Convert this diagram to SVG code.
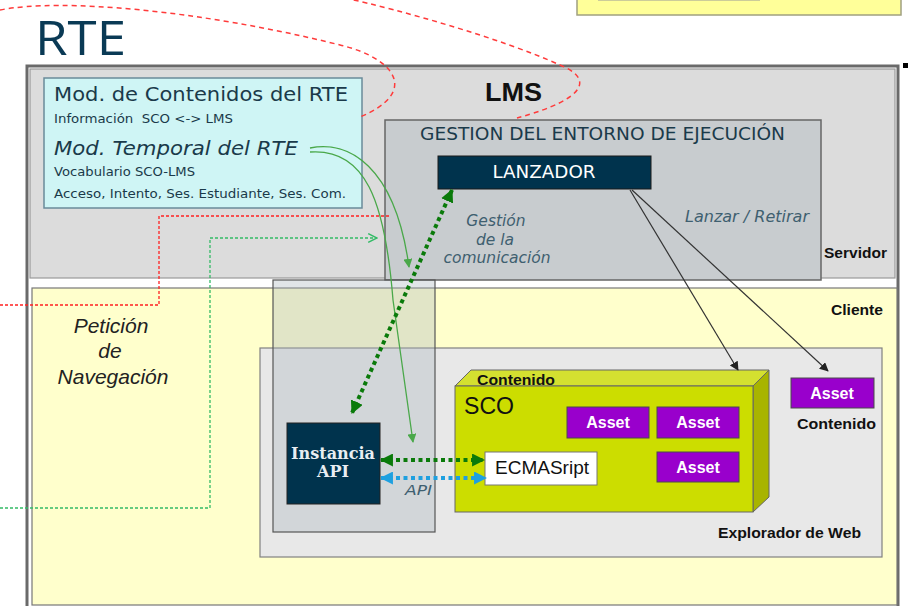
<svg xmlns="http://www.w3.org/2000/svg" width="908" height="606" viewBox="0 0 908 606">
<style>
.sans{font-family:"DejaVu Sans","Liberation Sans",sans-serif}
.ar{font-family:"Liberation Sans",Arial,sans-serif}
.arb{font-family:"Liberation Sans",Arial,sans-serif;font-weight:bold}
.mod{fill:#1a3a4a}
.it{font-style:italic}
.asset rect{fill:#9900cc;stroke:#4a4a4a;stroke-width:1}
.asset text{font-family:"Liberation Sans",Arial,sans-serif;font-weight:bold;font-size:16px;fill:#fff;text-anchor:middle}
.lbl{fill:#3f5f70}
</style>
<defs>
<marker id="ag" viewBox="0 0 12 12" markerWidth="13" markerHeight="13" refX="11" refY="6" orient="auto-start-reverse" markerUnits="userSpaceOnUse"><path d="M0,0 L12,6 L0,12 z" fill="#0a7a0a"/></marker>
<marker id="ab" viewBox="0 0 12 12" markerWidth="13" markerHeight="13" refX="11" refY="6" orient="auto-start-reverse" markerUnits="userSpaceOnUse"><path d="M0,0 L12,6 L0,12 z" fill="#1ea0e0"/></marker>
<marker id="alg" viewBox="0 0 10 10" markerWidth="9" markerHeight="9" refX="9" refY="5" orient="auto" markerUnits="userSpaceOnUse"><path d="M0,0 L10,5 L0,10 z" fill="#4aa84a"/></marker>
<marker id="aopen" viewBox="0 0 10 10" markerWidth="11" markerHeight="11" refX="9" refY="5" orient="auto" markerUnits="userSpaceOnUse"><path d="M1,1 L9,5 L1,9" fill="none" stroke="#33bb66" stroke-width="1.3"/></marker>
<marker id="ak" viewBox="0 0 10 10" markerWidth="9" markerHeight="9" refX="9" refY="5" orient="auto" markerUnits="userSpaceOnUse"><path d="M0,0 L10,5 L0,10 z" fill="#222"/></marker>
</defs>
<rect width="908" height="606" fill="#fff"/>

<g id="topbox">
<rect x="577" y="-4" width="324" height="19" fill="#ffff99" stroke="#a0a080" stroke-width="1.5"/>
<line x1="598" y1="0" x2="760" y2="0" stroke="#999" stroke-width="1"/>
</g>
<rect x="903" y="63" width="5" height="5" fill="#000"/>

<g id="title">
<text x="35" y="55" font-family="'Open Sans','DejaVu Sans',sans-serif" font-size="48" fill="#0a3a55" textLength="91" lengthAdjust="spacingAndGlyphs">RTE</text>
</g>

<g id="servidor">
<rect x="27" y="66" width="871" height="545" fill="#fff" stroke="#6a6a6a" stroke-width="3"/>
<rect x="30" y="69" width="865" height="209" fill="#dcdcdc" stroke="#999" stroke-width="1.2"/>
<text x="485" y="101" class="arb" font-size="25" fill="#111" textLength="57" lengthAdjust="spacingAndGlyphs">LMS</text>
<text x="824" y="258" class="arb" font-size="14" fill="#111" textLength="63" lengthAdjust="spacingAndGlyphs">Servidor</text>
</g>

<g id="cliente">
<rect x="32" y="288" width="865" height="317" fill="#ffffcc" stroke="#777" stroke-width="1.2"/>
<text x="831" y="315" class="arb" font-size="14" fill="#111" textLength="52" lengthAdjust="spacingAndGlyphs">Cliente</text>
<g class="ar it" font-size="21" fill="#222" text-anchor="middle">
<text x="111" y="333">Petición</text>
<text x="110" y="358">de</text>
<text x="113" y="384">Navegación</text>
</g>
</g>

<g id="modelo">
<rect x="44" y="78" width="318" height="130" fill="#cff5f5" stroke="#6a8a99" stroke-width="1.5"/>
<text x="54" y="101" class="sans mod" font-size="20" textLength="294" lengthAdjust="spacingAndGlyphs">Mod. de Contenidos del RTE</text>
<text x="54" y="123" class="sans mod" font-size="12" textLength="179" lengthAdjust="spacingAndGlyphs" xml:space="preserve">Información  SCO &lt;-&gt; LMS</text>
<text x="54" y="155" class="sans mod it" font-size="20" textLength="244" lengthAdjust="spacingAndGlyphs">Mod. Temporal del RTE</text>
<text x="54" y="176" class="sans mod" font-size="12" textLength="141" lengthAdjust="spacingAndGlyphs">Vocabulario SCO-LMS</text>
<text x="54" y="198" class="sans mod" font-size="12" textLength="292" lengthAdjust="spacingAndGlyphs">Acceso, Intento, Ses. Estudiante, Ses. Com.</text>
</g>

<g id="gestion">
<rect x="385" y="120" width="436" height="160" fill="#c8cccf" stroke="#666" stroke-width="1.5"/>
<text x="420" y="140" class="sans mod" font-size="18" textLength="365" lengthAdjust="spacingAndGlyphs">GESTION DEL ENTORNO DE EJECUCIÓN</text>
<g class="sans it lbl" font-size="15.5" text-anchor="middle">
<text x="496" y="226">Gestión</text>
<text x="495" y="245">de la</text>
<text x="497" y="263">comunicación</text>
</g>
<text x="685" y="222" class="sans it lbl" font-size="15" textLength="124" lengthAdjust="spacingAndGlyphs">Lanzar / Retirar</text>
</g>

<g id="lanzador">
<rect x="438" y="156" width="213" height="33" fill="#00334d" stroke="#1a1a1a" stroke-width="1"/>
<text x="544" y="178" class="sans" font-size="17" fill="#fff" text-anchor="middle" textLength="103" lengthAdjust="spacingAndGlyphs">LANZADOR</text>
</g>

<g id="explorador">
<rect x="260" y="348" width="622" height="209" fill="#e8e8e8" stroke="#808080" stroke-width="1.2"/>
<text x="718" y="538" class="arb" font-size="14" fill="#111" textLength="143" lengthAdjust="spacingAndGlyphs">Explorador de Web</text>
</g>

<g id="sco">
<polygon points="455,386 471,370 769,370 753,386" fill="#d4e030" stroke="#666" stroke-width="1"/>
<polygon points="753,386 769,370 769,497 753,512" fill="#a8b400" stroke="#666" stroke-width="1"/>
<rect x="455" y="386" width="298" height="126" fill="#ccdd00" stroke="#666" stroke-width="1"/>
<text x="477" y="385" class="arb" font-size="14" fill="#111" textLength="78" lengthAdjust="spacingAndGlyphs">Contenido</text>
<text x="464" y="414" class="ar" font-size="23" fill="#111" textLength="50" lengthAdjust="spacingAndGlyphs">SCO</text>
</g>

<g id="asset1" class="asset"><rect x="567" y="407" width="82" height="31"/><text x="608" y="428">Asset</text></g>
<g id="asset2" class="asset"><rect x="657" y="407" width="82" height="31"/><text x="698" y="428">Asset</text></g>
<g id="asset3" class="asset"><rect x="657" y="452" width="82" height="30"/><text x="698" y="473">Asset</text></g>
<g id="asset4" class="asset"><rect x="791" y="378" width="83" height="30"/><text x="832" y="399">Asset</text></g>
<text x="797" y="429" class="arb" font-size="14" fill="#111" textLength="79" lengthAdjust="spacingAndGlyphs">Contenido</text>

<g id="ecmascript">
<rect x="485" y="452" width="112" height="33" fill="#fff" stroke="#777" stroke-width="1"/>
<text x="495" y="474" class="ar" font-size="18" fill="#111" textLength="94" lengthAdjust="spacingAndGlyphs">ECMASript</text>
</g>

<g id="columna">
<rect x="273" y="280" width="162" height="252" fill="#a8b4bc" fill-opacity="0.35" stroke="#555" stroke-width="1.2"/>
</g>

<g id="instancia">
<rect x="287" y="423" width="93" height="81" fill="#00334d" stroke="#222" stroke-width="1"/>
<g font-family="'DejaVu Serif','Liberation Serif',serif" font-weight="bold" font-size="16" fill="#e8eef2" text-anchor="middle">
<text x="333" y="459" textLength="84" lengthAdjust="spacingAndGlyphs">Instancia</text>
<text x="333" y="477">API</text>
</g>
</g>

<g id="connectors" fill="none">
<path d="M0,10 C60,-2 200,10 340,45 C395,58 420,92 360,117" stroke="#ff3b3b" stroke-width="1.5" stroke-dasharray="5 4"/>
<path d="M345,-2 C400,10 500,38 560,65 C592,78 590,98 517,118" stroke="#ff3b3b" stroke-width="1.5" stroke-dasharray="5 4"/>
<path d="M0,305 H159 V216 H391" stroke="#ff2020" stroke-width="1.3" stroke-dasharray="3 2"/>
<path d="M0,508 H210 V238 H377" stroke="#33bb66" stroke-width="1.3" stroke-dasharray="3 2" marker-end="url(#aopen)"/>
<path d="M310,148 C348,140 395,165 409,267" stroke="#4aa84a" stroke-width="1.3" marker-end="url(#alg)"/>
<path d="M310,152 C365,148 385,200 393,300 L413,442" stroke="#4aa84a" stroke-width="1.3" marker-end="url(#alg)"/>
<line x1="452" y1="190" x2="352" y2="413" stroke="#0a7a0a" stroke-width="4" stroke-dasharray="4 3.5" marker-start="url(#ag)" marker-end="url(#ag)"/>
<line x1="381" y1="460" x2="484" y2="460" stroke="#0a7a0a" stroke-width="4" stroke-dasharray="4 3.5" marker-start="url(#ag)" marker-end="url(#ag)"/>
<line x1="381" y1="478" x2="486" y2="478" stroke="#1ea0e0" stroke-width="4" stroke-dasharray="4 3.5" marker-start="url(#ab)" marker-end="url(#ab)"/>
<line x1="630" y1="190" x2="738" y2="370" stroke="#333" stroke-width="1.2" marker-end="url(#ak)"/>
<line x1="632" y1="190" x2="828" y2="371" stroke="#333" stroke-width="1.2" marker-end="url(#ak)"/>
<text x="405" y="495" class="sans it lbl" font-size="14" fill="#3f5f70" textLength="27" lengthAdjust="spacingAndGlyphs">API</text>
</g>
</svg>
